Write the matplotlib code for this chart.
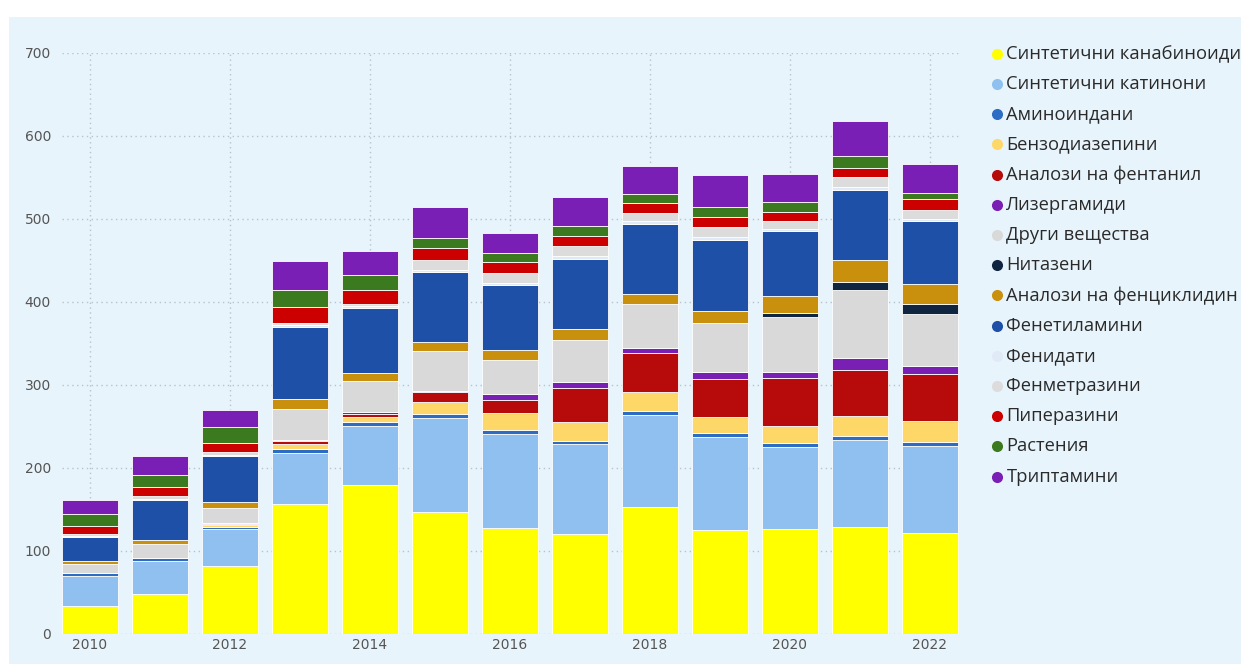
import matplotlib
matplotlib.use("Agg")
import matplotlib.pyplot as plt
from matplotlib.lines import Line2D
from matplotlib.patches import Rectangle
import numpy as np

# ---- data ----
years = [2010, 2011, 2012, 2013, 2014, 2015, 2016, 2017, 2018, 2019, 2020, 2021, 2022]

labels = [
    "Синтетични канабиноиди", "Синтетични катинони", "Аминоиндани", "Бензодиазепини",
    "Аналози на фентанил", "Лизергамиди", "Други вещества", "Нитазени",
    "Аналози на фенциклидин", "Фенетиламини", "Фенидати", "Фенметразини",
    "Пиперазини", "Растения", "Триптамини",
]

cannabinoids   = [34, 48, 82, 157, 180, 147, 128, 121, 153, 125, 127, 129, 122]
cathinones     = [36, 40, 44, 61, 70, 113, 113, 108, 111, 112, 98, 105, 104]
aminoindanes   = [3, 3, 3, 5, 6, 5, 5, 3, 5, 5, 5, 5, 5]
benzodiazep    = [1, 1, 2, 6, 6, 14, 20, 24, 23, 20, 21, 24, 26]
fentanyls      = [0, 0, 2, 3, 3, 12, 16, 40, 46, 45, 57, 55, 56]
lysergamides   = [0, 0, 1, 2, 2, 2, 7, 7, 6, 9, 8, 14, 10]
other          = [10, 16, 18, 37, 38, 48, 41, 51, 54, 59, 66, 82, 63]
nitazenes      = [0, 0, 0, 0, 0, 0, 0, 0, 0, 0, 5, 10, 11]
pcp_analogues  = [4, 5, 7, 12, 9, 11, 12, 13, 12, 14, 20, 26, 25]
phenethylamine = [29, 49, 56, 87, 79, 84, 78, 85, 84, 86, 78, 85, 75]
phenidates     = [1, 1, 1, 2, 2, 3, 3, 3, 3, 3, 3, 3, 3]
phenmetrazines = [2, 3, 3, 3, 3, 12, 12, 13, 10, 12, 9, 12, 11]
piperazines    = [10, 11, 11, 19, 16, 14, 13, 11, 12, 12, 12, 12, 13]
plants         = [15, 15, 19, 20, 19, 12, 11, 13, 11, 13, 11, 14, 7]
tryptamines    = [16, 22, 21, 35, 28, 37, 24, 34, 34, 38, 34, 42, 35]

series = [cannabinoids, cathinones, aminoindanes, benzodiazep, fentanyls, lysergamides,
          other, nitazenes, pcp_analogues, phenethylamine, phenidates, phenmetrazines,
          piperazines, plants, tryptamines]

colors = ["#ffff00", "#8fc0ef", "#2d6cc4", "#fdd868", "#b70a0a", "#7a1fb3",
          "#d9d9d9", "#0f2540", "#c8900c", "#1e50a8", "#dfeaf6", "#dcdcdc",
          "#cc0000", "#3b7a1f", "#7a1fb5"]

BG = "#e8f4fb"

fig = plt.figure(figsize=(12.41, 6.64), dpi=100)
fig.patch.set_facecolor("white")
fig.add_artist(Rectangle((0.007, 0.0), 0.993, 0.975, transform=fig.transFigure,
                         facecolor=BG, edgecolor="none", zorder=-10))

ax = fig.add_axes([0.05, 0.0452, 0.7236, 0.875])
ax.set_facecolor(BG)

x = np.array(years)
bottom = np.zeros(len(years))
for vals, col in zip(series, colors):
    v = np.array(vals, dtype=float)
    ax.bar(x, v, bottom=bottom, width=0.8, color=col, edgecolor="white",
           linewidth=0.6, zorder=3)
    bottom += v

ax.set_ylim(0, 700)
ax.set_xlim(2009.6, 2022.43)
ax.set_yticks(range(0, 701, 100))
ax.set_xticks(years[::2])
ax.tick_params(length=0, labelsize=10, colors="#555555", pad=8)
ax.tick_params(axis="x", pad=3)
ax.grid(axis="both", linestyle=(0, (1, 2.5)), color="#b8c2cc", linewidth=1.0, zorder=0)
for s in ax.spines.values():
    s.set_visible(False)

# legend drawn by hand, one row per series
lx, ly0, dy = 0.8035, 0.919, 30.2 / 664
for i, (name, col) in enumerate(zip(labels, colors)):
    y = ly0 - i * dy
    fig.add_artist(Line2D([lx], [y], marker="o", markersize=8, color=col,
                          markeredgewidth=0, transform=fig.transFigure))
    fig.text(lx + 0.0075, y, name, fontsize=13.2, color="#2a2a2a", va="center",
             ha="left", family="Open Sans")

fig.savefig("out.png", dpi=100, facecolor=fig.get_facecolor())
